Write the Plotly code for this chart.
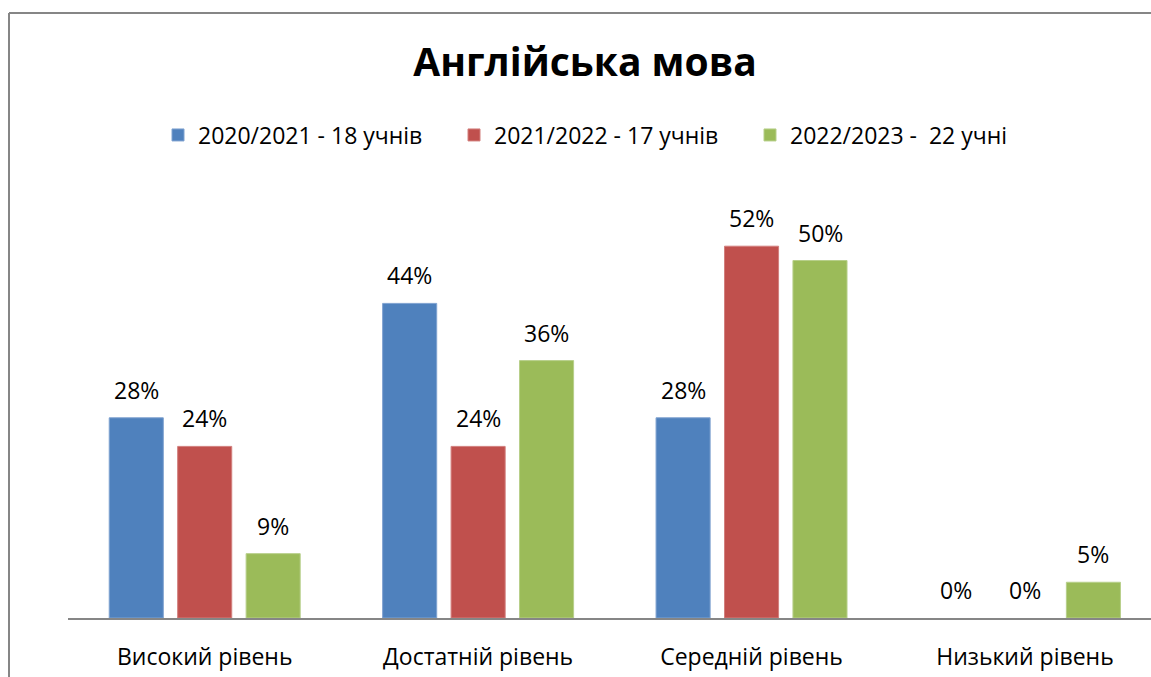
import plotly.graph_objects as go

categories = ["Високий рівень", "Достатній рівень", "Середній рівень", "Низький рівень"]
series_names = ["2020/2021 - 18 учнів", "2021/2022 - 17 учнів", "2022/2023 -  22 учні"]
values_2020 = [28, 44, 28, 0]
values_2021 = [24, 24, 52, 0]
values_2022 = [9, 36, 50, 5]
colors = ["#4F81BD", "#C0504D", "#9BBB59"]
edge_colors = ["#7FA2D0", "#D27F7D", "#B7CF8A"]
title_text = "Англійська мова"

FONT = "Open Sans"
all_values = [values_2020, values_2021, values_2022]

W, H = 1151, 677
L, T, B = 68, 189, 59
PW, PH = W - L, H - T - B

fig = go.Figure()
for name, vals, col, ec in zip(series_names, all_values, colors, edge_colors):
    fig.add_trace(go.Bar(
        x=categories, y=vals, name=name,
        marker=dict(color=col, line=dict(color=ec, width=[1 if v > 0 else 0 for v in vals])),
        hoverinfo="skip",
    ))

offsets = [-68.5, 0, 68.5]
annotations = []
for vals, off in zip(all_values, offsets):
    for c, v in zip(categories, vals):
        annotations.append(dict(
            x=c, y=v, xref="x", yref="y", text=f"{v}%", showarrow=False,
            xshift=off, yshift=28, yanchor="middle",
            font=dict(family=FONT, size=23, color="#000000"),
        ))

fx0 = (9 - L) / PW
fy1 = (618 - 13) / PH
frame_line = dict(color="#868686", width=2)

fig.update_layout(
    width=W, height=H,
    margin=dict(l=L, r=0, t=T, b=B, pad=0),
    paper_bgcolor="white", plot_bgcolor="white",
    barmode="group", bargap=0.249, bargroupgap=0.21,
    font=dict(family=FONT, color="#000000"),
    title=dict(text=f"<b>{title_text}</b>", xref="container", x=585 / W, xanchor="center",
               yref="container", y=1 - 62 / H, yanchor="middle",
               font=dict(family=FONT, size=39, color="#000000")),
    legend=dict(orientation="h", x=(602 - L) / PW, xanchor="center",
                y=(618 - 135) / PH, yanchor="middle",
                font=dict(family=FONT, size=23, color="#000000"),
                entrywidth=251, traceorder="normal"),
    xaxis=dict(range=[-0.5, 3.461], showline=True, linecolor="#868686", linewidth=2,
               showgrid=False, zeroline=False, ticks="", ticklabelstandoff=17,
               tickfont=dict(family=FONT, size=23, color="#000000")),
    yaxis=dict(range=[0, 60], visible=False, showgrid=False, zeroline=False),
    annotations=annotations,
    shapes=[
        dict(type="line", xref="paper", yref="paper", x0=fx0, x1=1.05, y0=fy1, y1=fy1,
             line=frame_line, layer="below"),
        dict(type="line", xref="paper", yref="paper", x0=fx0, x1=fx0, y0=-0.3, y1=fy1,
             line=frame_line, layer="below"),
    ],
)

fig.write_html("out.html", config={"displayModeBar": False},
               post_script="document.body.style.margin='0px';document.body.style.overflow='hidden';")
